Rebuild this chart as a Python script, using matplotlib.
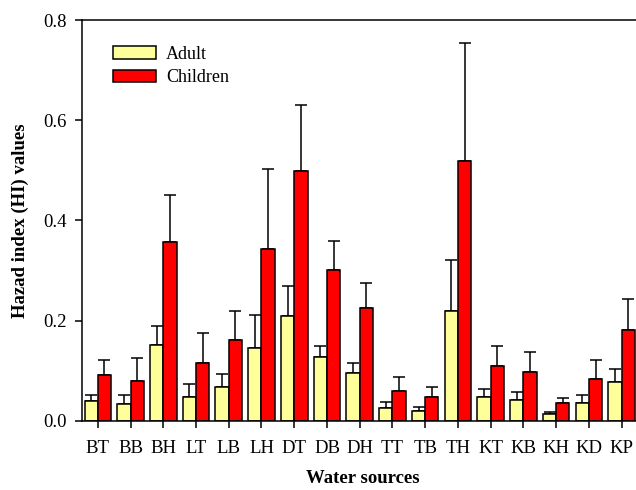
import numpy as np
import matplotlib
matplotlib.use('Agg')
import matplotlib.pyplot as plt

sources = ['BT', 'BB', 'BH', 'LT', 'LB', 'LH', 'DT', 'DB', 'DH',
           'TT', 'TB', 'TH', 'KT', 'KB', 'KH', 'KD', 'KP']
adult = [0.039, 0.033, 0.152, 0.048, 0.068, 0.146, 0.210, 0.127, 0.096,
         0.025, 0.019, 0.220, 0.047, 0.041, 0.014, 0.035, 0.077]
adult_top = [0.052, 0.052, 0.190, 0.074, 0.093, 0.212, 0.269, 0.150, 0.115,
             0.037, 0.028, 0.321, 0.064, 0.058, 0.018, 0.051, 0.104]
children = [0.092, 0.080, 0.357, 0.115, 0.161, 0.343, 0.498, 0.301, 0.225,
            0.059, 0.048, 0.518, 0.110, 0.097, 0.035, 0.084, 0.181]
children_top = [0.122, 0.125, 0.451, 0.176, 0.219, 0.502, 0.630, 0.359, 0.275,
                0.087, 0.068, 0.755, 0.150, 0.138, 0.045, 0.122, 0.244]

plt.rcParams['font.family'] = ['Liberation Serif', 'DejaVu Serif']

fig = plt.figure( figsize = (6.36, 4.9), dpi = 100 )
ax = fig.add_axes( [0.129, 0.141, 0.882, 0.818] )

x = np.arange( len(sources) )
w = 0.405
a_err = np.array(adult_top) - np.array(adult)
c_err = np.array(children_top) - np.array(children)

ax.bar( x - w/2, adult, w, color = '#FFFF99', edgecolor = 'black', linewidth = 1.1, label = 'Adult', zorder = 2 )
ax.bar( x + w/2, children, w, color = '#FF0000', edgecolor = 'black', linewidth = 1.1, label = 'Children', zorder = 2 )
ax.errorbar( x - w/2, adult, yerr = [np.zeros_like(a_err), a_err], fmt = 'none',
             ecolor = 'black', elinewidth = 1.1, capsize = 4.5, capthick = 1.1, zorder = 1 )
ax.errorbar( x + w/2, children, yerr = [np.zeros_like(c_err), c_err], fmt = 'none',
             ecolor = 'black', elinewidth = 1.1, capsize = 4.5, capthick = 1.1, zorder = 1 )

ax.set_xlim( -0.48, 16.65 )
ax.set_ylim( 0, 0.8 )
ax.set_yticks( [0.0, 0.2, 0.4, 0.6, 0.8] )
ax.set_yticklabels( ['0.0', '0.2', '0.4', '0.6', '0.8'] )
ax.set_xticks( x )
ax.set_xticklabels( sources )
ax.tick_params( axis = 'both', labelsize = 13.5, direction = 'out', length = 5, width = 1.1 )
ax.tick_params( axis = 'x', pad = 9 )
ax.tick_params( axis = 'y', pad = 6 )
for s in ax.spines.values():
    s.set_linewidth( 1.1 )

ax.set_xlabel( 'Water sources', fontsize = 13.5, fontweight = 'bold', labelpad = 9 )
ax.set_ylabel( 'Hazad index (HI) values', fontsize = 13.5, fontweight = 'bold', labelpad = 10 )

fig.legend( loc = 'upper left', bbox_to_anchor = (113/636, 1 - 46/490), frameon = False, fontsize = 13,
            handlelength = 2.4, handleheight = 0.7, handletextpad = 0.55, borderpad = 0,
            borderaxespad = 0, labelspacing = 0.35 )

plt.savefig( 'out.png', dpi = 100 )
plt.close()
